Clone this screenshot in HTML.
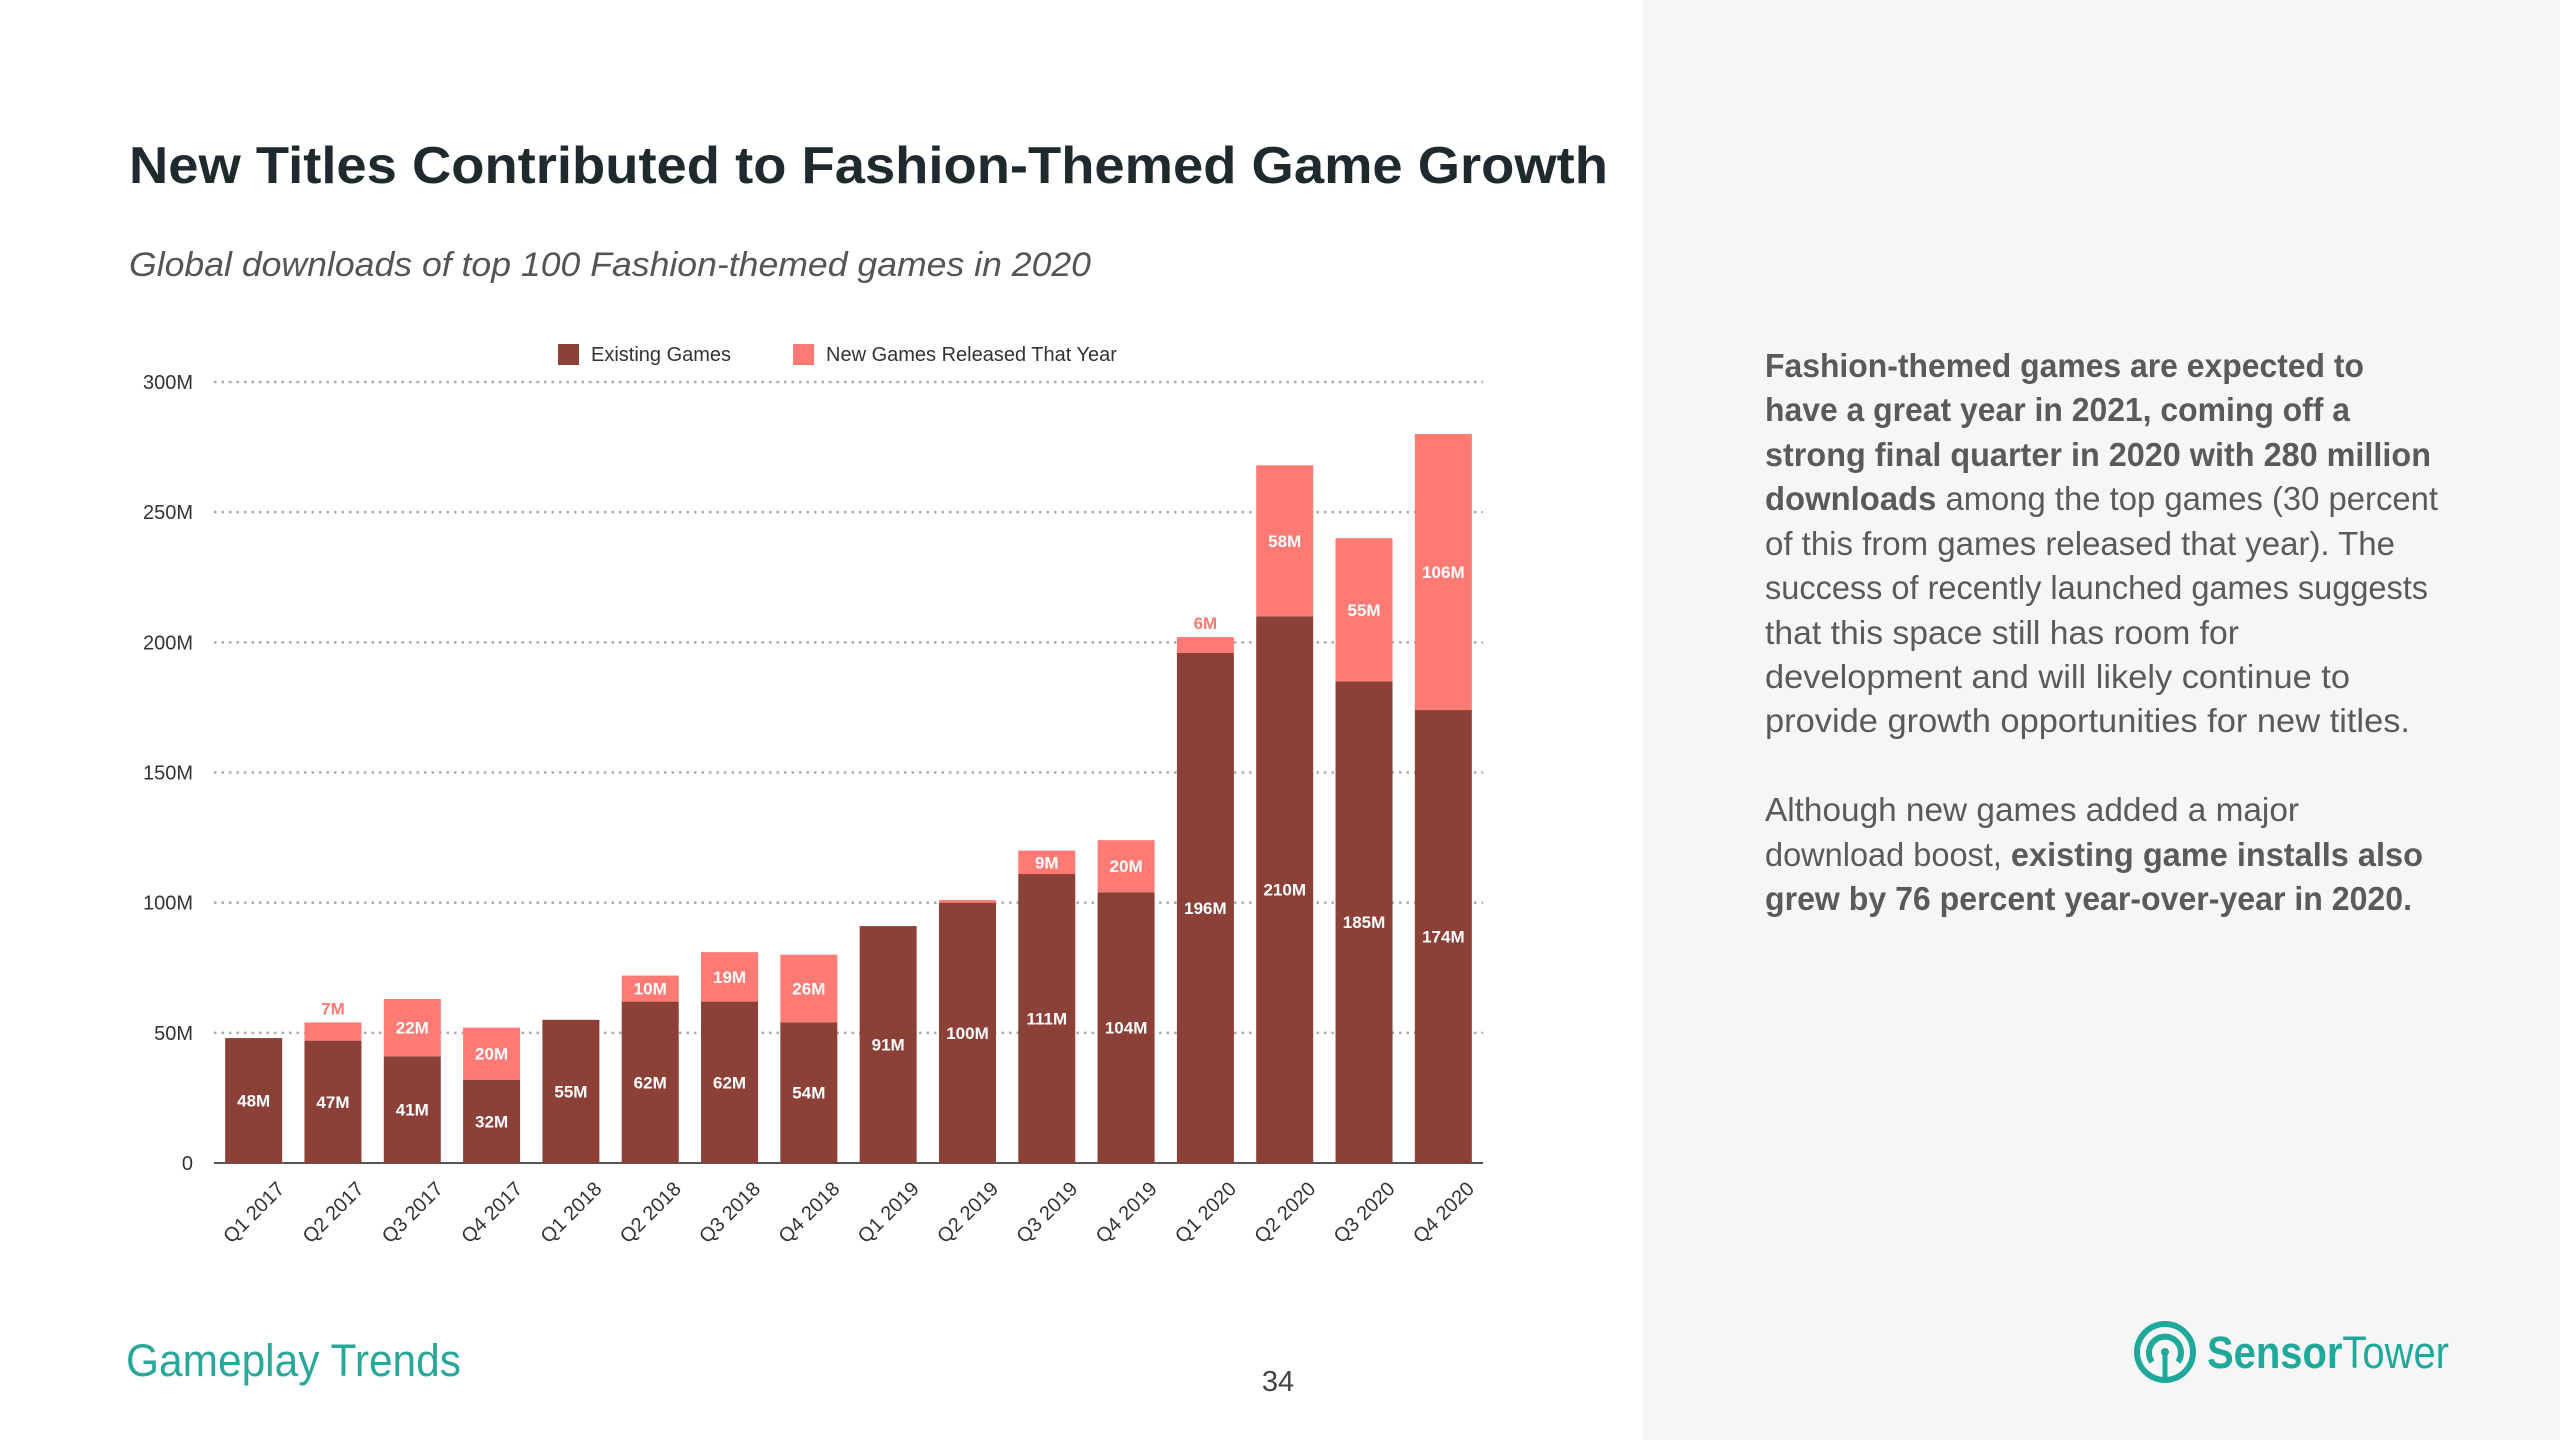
<!DOCTYPE html>
<html><head><meta charset="utf-8"><style>
html,body{margin:0;padding:0;width:2560px;height:1440px;overflow:hidden;background:#fff}
svg{display:block;font-family:"Liberation Sans",sans-serif}
</style></head><body>
<svg id="chart" width="2560" height="1440" viewBox="0 0 2560 1440">
<rect x="1643" y="0" width="917" height="1440" fill="#f6f6f6"/>
<text x="129" y="183" font-size="52" font-weight="bold" fill="#1e2a2e" textLength="1479" lengthAdjust="spacingAndGlyphs">New Titles Contributed to Fashion-Themed Game Growth</text>
<text x="129" y="276" font-size="34" font-style="italic" fill="#555" textLength="962" lengthAdjust="spacingAndGlyphs">Global downloads of top 100 Fashion-themed games in 2020</text>
<g>
<rect x="558" y="344" width="21" height="21" fill="#8b4137"/>
<text x="591" y="361" font-size="20" fill="#333">Existing Games</text>
<rect x="793" y="344" width="21" height="21" fill="#fe7a74"/>
<text x="826" y="361" font-size="20" fill="#333">New Games Released That Year</text>
</g>
<g id="grid"></g><g id="bars"></g><g id="xlabels"></g>
<g font-size="33" fill="#5a5a5a">
<text x="1765" y="377" textLength="599" lengthAdjust="spacingAndGlyphs" font-weight="bold">Fashion-themed games are expected to</text>
<text x="1765" y="421" textLength="585" lengthAdjust="spacingAndGlyphs" font-weight="bold">have a great year in 2021, coming off a</text>
<text x="1765" y="466" textLength="666" lengthAdjust="spacingAndGlyphs" font-weight="bold">strong final quarter in 2020 with 280 million</text>
<text x="1765" y="510" textLength="673" lengthAdjust="spacingAndGlyphs"><tspan font-weight="bold">downloads</tspan> among the top games (30 percent</text>
<text x="1765" y="555" textLength="630" lengthAdjust="spacingAndGlyphs">of this from games released that year). The</text>
<text x="1765" y="599" textLength="663" lengthAdjust="spacingAndGlyphs">success of recently launched games suggests</text>
<text x="1765" y="644" textLength="474" lengthAdjust="spacingAndGlyphs">that this space still has room for</text>
<text x="1765" y="688" textLength="585" lengthAdjust="spacingAndGlyphs">development and will likely continue to</text>
<text x="1765" y="732" textLength="645" lengthAdjust="spacingAndGlyphs">provide growth opportunities for new titles.</text>
<text x="1765" y="821" textLength="534" lengthAdjust="spacingAndGlyphs">Although new games added a major</text>
<text x="1765" y="866" textLength="658" lengthAdjust="spacingAndGlyphs">download boost, <tspan font-weight="bold">existing game installs also</tspan></text>
<text x="1765" y="910" textLength="647" lengthAdjust="spacingAndGlyphs" font-weight="bold">grew by 76 percent year-over-year in 2020.</text>
</g>
<text x="126" y="1376" font-size="45" fill="#2aa79b" textLength="335" lengthAdjust="spacingAndGlyphs">Gameplay Trends</text>
<text x="1278" y="1391" font-size="29" fill="#444" text-anchor="middle">34</text>
<g>
<circle cx="2165" cy="1352" r="28" fill="none" stroke="#1fa99a" stroke-width="6"/>
<path d="M2152 1362 A16 16 0 1 1 2178 1362" fill="none" stroke="#1fa99a" stroke-width="6"/>
<circle cx="2165" cy="1352" r="4" fill="#1fa99a"/>
<line x1="2165" y1="1352" x2="2165" y2="1380" stroke="#1fa99a" stroke-width="5"/>
<text x="2207" y="1368" font-size="45" fill="#1fa99a" textLength="242" lengthAdjust="spacingAndGlyphs"><tspan font-weight="bold">Sensor</tspan>Tower</text>
</g>
</svg>
<script>
const categories=["Q1 2017","Q2 2017","Q3 2017","Q4 2017","Q1 2018","Q2 2018","Q3 2018","Q4 2018","Q1 2019","Q2 2019","Q3 2019","Q4 2019","Q1 2020","Q2 2020","Q3 2020","Q4 2020"];
const existingGames=[48,47,41,32,55,62,62,54,91,100,111,104,196,210,185,174];
const newGames=[0,7,22,20,0,10,19,26,0,1,9,20,6,58,55,106];
const yTicks=[0,50,100,150,200,250,300];
const yTickLabels=["0","50M","100M","150M","200M","250M","300M"];
const NS="http://www.w3.org/2000/svg";
const X0=214,X1=1483,Y0=1163,YMAX=300,YTOP=382;
const y=v=>Y0-(v/YMAX)*(Y0-YTOP);
const step=(X1-X0)/categories.length;
const xc=i=>X0+step*(i+0.5);
const BW=57;
function mk(tag,attrs,parent){const e=document.createElementNS(NS,tag);for(const k in attrs)e.setAttribute(k,attrs[k]);parent.appendChild(e);return e;}
const grid=document.getElementById('grid'),bars=document.getElementById('bars'),xl=document.getElementById('xlabels');
yTicks.forEach((t,i)=>{
  if(t>0){const l=mk('line',{x1:X0,x2:X1,y1:y(t),y2:y(t),stroke:'#aaa','stroke-width':2.5,'stroke-dasharray':'2.5 5'},grid);
  
  }
  const tx=mk('text',{x:193,y:y(t)+7,'font-size':20,fill:'#333','text-anchor':'end'},grid);
  tx.textContent=yTickLabels[i];
  
  
});
const ax=mk('line',{x1:X0,x2:X1,y1:Y0,y2:Y0,stroke:'#555','stroke-width':2},grid);


categories.forEach((c,i)=>{
  const e=existingGames[i],n=newGames[i],cx=xc(i);
  const r1=mk('rect',{x:cx-BW/2,y:y(e),width:BW,height:Y0-y(e),fill:'#8b4137'},bars);
  
  
  if(n>0){const r2=mk('rect',{x:cx-BW/2,y:y(e+n),width:BW,height:y(e)-y(e+n),fill:'#fe7a74'},bars);
  
  }
  const t1=mk('text',{x:cx,y:y(e/2)+6,'font-size':17,'font-weight':'bold',fill:'#fff','text-anchor':'middle'},bars);
  t1.textContent=e+'M';
  
  
  if(n>1){const small=n<9;
  const t2=mk('text',{x:cx,y:small?y(e+n)-8:y(e+n/2)+6,'font-size':17,'font-weight':'bold',fill:small?'#fe7a74':'#fff','text-anchor':'middle'},bars);
  t2.textContent=n+'M';
  
  }
  const lx=cx+32,ly=1190;
  const t3=mk('text',{x:lx,y:ly,'font-size':20,fill:'#333','text-anchor':'end',transform:`rotate(-45 ${lx} ${ly})`},xl);
  t3.textContent=c;
  
  
});
</script>
</body></html>
